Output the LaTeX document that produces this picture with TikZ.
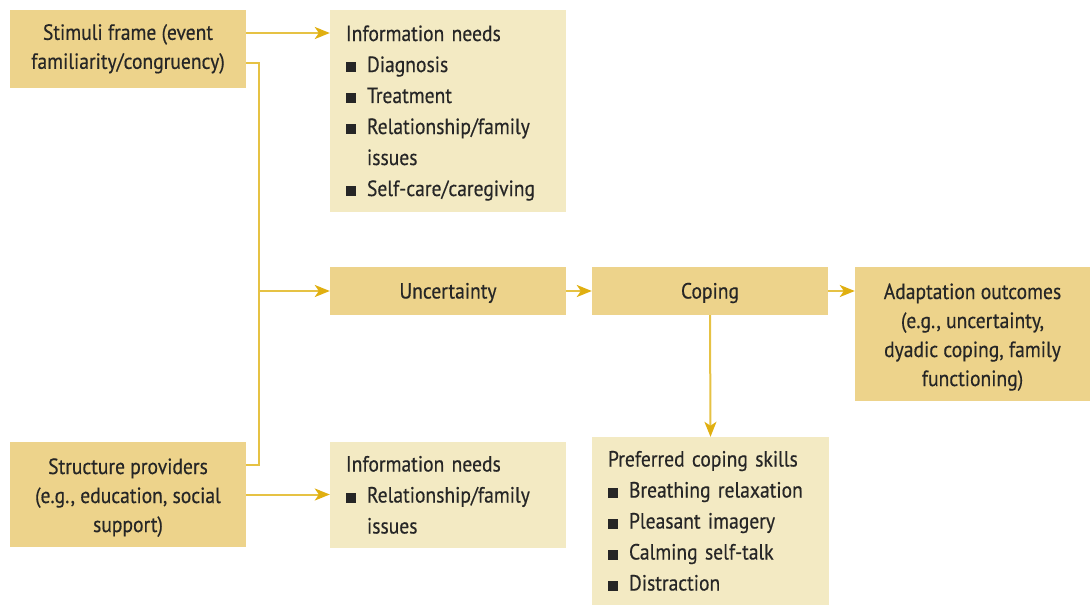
\documentclass[tikz,border=0pt]{standalone}
\usepackage{fontspec}
\setmainfont{PT Sans}[FakeStretch=0.89, FakeBold=0.4]
\usepackage{xcolor}
\usetikzlibrary{arrows.meta, positioning}

\definecolor{boxdark}{HTML}{EDD38B}
\definecolor{boxlight}{HTML}{F3EAC3}
\definecolor{linegold}{HTML}{E6C244}
\definecolor{tipgold}{HTML}{E0AF10}
\definecolor{inktext}{HTML}{262626}
\newcommand{\sq}{\makebox[21pt][l]{\rule{10pt}{10pt}}}
\newcommand{\linestrut}{\rule[-5pt]{0pt}{25pt}}
\newcommand{\topstrut}{\rule{0pt}{22pt}}

\tikzset{
  boxtext/.style={text=inktext, execute at begin node=\linestrut, execute at end node=\linestrut},
  mainbox/.style={boxtext, fill=boxdark, minimum width=236pt, inner sep=0pt,
    align=center, font=\fontsize{22}{29}\selectfont},
  listbox/.style={boxtext, fill=boxlight, text width=204pt, inner xsep=16pt,
    inner ysep=0pt, align=left, font=\fontsize{22}{31}\selectfont},
  flow/.style={linegold, line width=2pt},
}

\begin{document}
\begin{tikzpicture}[x=1pt, y=-1pt, >={Stealth[length=15pt, width=12pt, inset=4pt, color=tipgold]}]

\useasboundingbox (0,0) rectangle (1092,605);

% Left column
\node[mainbox, minimum height=78pt] (stimuli) at (128,49) {Stimuli frame (event\\familiarity/congruency)};
\node[mainbox, minimum height=105pt] (struct) at (128,494.5) {\topstrut Structure providers\\(e.g., education, social\\support)};

% Information needs
\node[listbox, minimum height=202pt] (info1) at (448,111) {Information needs\\\sq Diagnosis\\\sq Treatment\\\sq Relationship/family\\\hspace*{21pt}issues\\\sq Self-care/caregiving};
\node[listbox, minimum height=106pt] (info2) at (448,495) {Information needs\\\sq Relationship/family\\\hspace*{21pt}issues};

% Middle row
\node[mainbox, minimum height=48pt] (unc) at (448,291) {Uncertainty};
\node[mainbox, minimum height=48pt] (cop) at (710,291) {Coping};
\node[mainbox, minimum width=235pt, minimum height=134pt] (adapt) at (972.5,334) {\topstrut Adaptation outcomes\\(e.g., uncertainty,\\dyadic coping, family\\functioning)};
\node[listbox, text width=205pt, minimum height=168pt] (pref) at (710.5,521) {Preferred coping skills\\\sq Breathing relaxation\\\sq Pleasant imagery\\\sq Calming self-talk\\\sq Distraction};

% Connectors
\coordinate (s1) at ([yshift=16pt]stimuli.east);
\coordinate (s2) at ([yshift=-14pt]stimuli.east);
\coordinate (p1) at ([yshift=29.5pt]struct.east);
\coordinate (trunk) at (259,0);

\draw[flow, ->] (s1) -- (s1 -| info1.west);
\draw[flow] (s2) -- (s2 -| trunk) -- (p1 -| trunk) -- (p1);
\draw[flow, ->] (unc.west -| trunk) -- (unc.west);
\draw[flow, ->] (struct.east) -- (struct.east -| info2.west);
\draw[flow, ->] (unc.east) -- (cop.west);
\draw[flow, ->] (cop.east) -- (cop.east -| adapt.west);
\draw[flow, ->] (cop.south) -- (pref.north);

\end{tikzpicture}
\end{document}
